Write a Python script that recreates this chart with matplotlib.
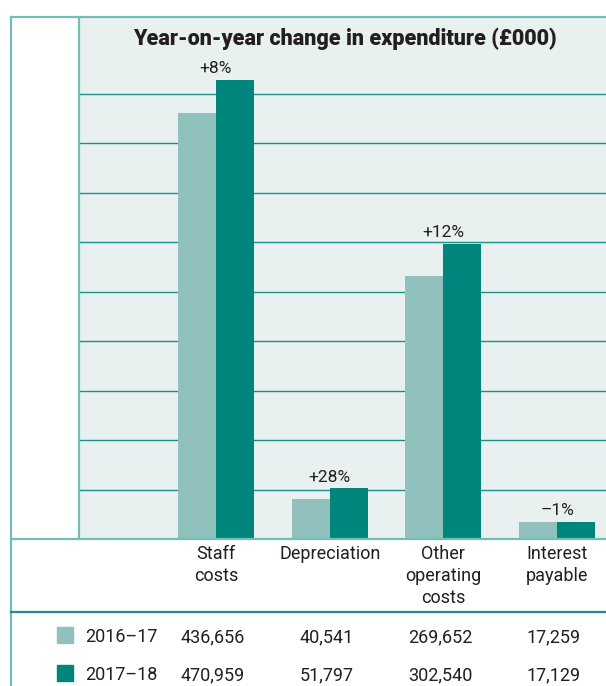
import numpy as np
import matplotlib.pyplot as plt
from matplotlib.lines import Line2D
from matplotlib.patches import Rectangle
from matplotlib.transforms import blended_transform_factory

# -------------------------------
# Data (£000)
# -------------------------------
categories = ["Staff\ncosts", "Depreciation", "Other\noperating\ncosts", "Interest\npayable"]
years = ["2016–17", "2017–18"]
spend_2016 = [436656, 40541, 269652, 17259]
spend_2017 = [470959, 51797, 302540, 17129]

LIGHT = "#90c1bd"
DARK = "#00857d"
BG = "#e8f1f0"
FRAME = "#74bcb7"
GRID = "#1a9089"
TEXT = "#231f20"

plt.rcParams['font.family'] = ['Roboto', 'DejaVu Sans']

W, H = 606, 686
fig = plt.figure(figsize=(W / 100, H / 100), dpi=100)


def fx(x):
    return x / W


def fy(y):
    return 1 - y / H


# -------------------------------
# Bars
# -------------------------------
ax = fig.add_axes([fx(79), fy(539), fx(606) - fx(79), fy(17) - fy(539)])
ax.set_facecolor(BG)
x = np.arange(len(categories))
bw = 0.334
ax.bar(x - bw / 2, spend_2016, bw, color=LIGHT, zorder=3)
ax.bar(x + bw / 2, spend_2017, bw, color=DARK, zorder=3)

step = 50700
ax.set_ylim(0, step * 522 / 49.44)
ax.set_xlim(-1.205, 3.43)
ax.set_yticks(np.arange(1, 10) * step)
ax.yaxis.grid(True, color=GRID, lw=1.0)
ax.set_axisbelow(True)
ax.tick_params(left=False, bottom=False, labelleft=False, labelbottom=False)
for s in ax.spines.values():
    s.set_visible(False)

# year-on-year change above each pair
for i, (a, b) in enumerate(zip(spend_2016, spend_2017)):
    pct = round((b / a - 1) * 100)
    label = f"+{pct}%" if pct >= 0 else f"–{abs(pct)}%"
    ax.annotate(label, (i, max(a, b)), xytext=(0, 5), textcoords="offset points",
                ha="center", va="baseline", fontsize=12.5, color=TEXT)

fig.text(fx(345), fy(45), "Year-on-year change in expenditure (£000)",
         ha="center", va="baseline", fontsize=15.5, fontweight="heavy", color=TEXT)

# -------------------------------
# Category labels and table
# -------------------------------
tr = blended_transform_factory(ax.transData, fig.transFigure)
for i, cat in enumerate(categories):
    ax.text(i, fy(545), cat, transform=tr, ha="center", va="top",
            fontsize=13, linespacing=1.3, color=TEXT)

rows_y = [635, 673]
for yr, vals, col, ry in zip(years, [spend_2016, spend_2017], [LIGHT, DARK], rows_y):
    fig.patches.append(Rectangle((fx(57), fy(ry + 8)), 16 / W, 16 / H,
                                 transform=fig.transFigure, color=col))
    fig.text(fx(85), fy(ry), yr, ha="left", va="center_baseline",
             fontsize=13, color=TEXT)
    for i, v in enumerate(vals):
        ax.text(i - 0.03, fy(ry), f"{v:,}", transform=tr, ha="center",
                va="center_baseline", fontsize=13, color=TEXT)

# -------------------------------
# Frame lines
# -------------------------------
frame = [
    ((11, 606), (17, 17), FRAME),
    ((11, 11), (17, 686), FRAME),
    ((79, 79), (17, 539), FRAME),
    ((11, 606), (539, 539), FRAME),
    ((11, 606), (612, 612), GRID),
]
for xs, ys, c in frame:
    fig.add_artist(Line2D([fx(v) for v in xs], [fy(v) for v in ys],
                          transform=fig.transFigure, color=c, lw=1.6))

fig.savefig("out.png", dpi=100)
